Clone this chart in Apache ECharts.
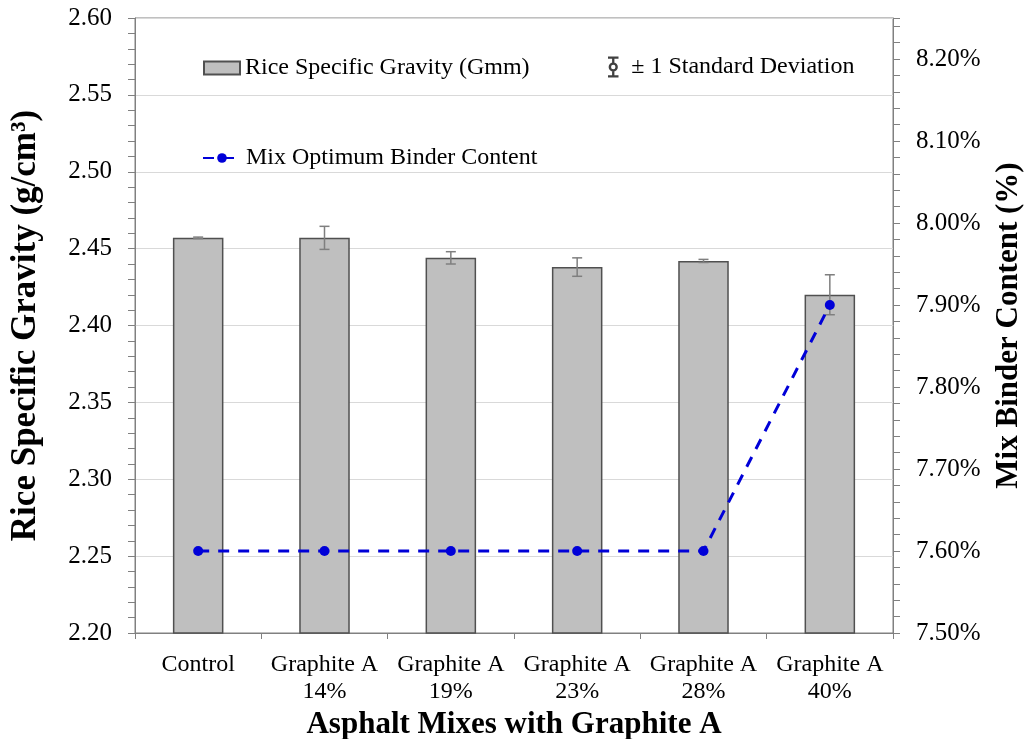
<!DOCTYPE html>
<html>
<head>
<meta charset="utf-8">
<script src="https://cdn.jsdelivr.net/npm/echarts@6/dist/echarts.min.js"></script>
<style>
html,body{margin:0;padding:0;background:#fff;}
#chart{width:1029px;height:739px;}
</style>
</head>
<body>
<div id="chart"></div>
<script>
var categories = ['Control', 'Graphite A\n14%', 'Graphite A\n19%', 'Graphite A\n23%', 'Graphite A\n28%', 'Graphite A\n40%'];
var riceGravity = [2.457, 2.457, 2.444, 2.438, 2.442, 2.420];
var riceStdDev = [0.0005, 0.0075, 0.004, 0.006, 0.001, 0.013];
var binderContent = [7.60, 7.60, 7.60, 7.60, 7.60, 7.90];
var leftTicks = {min: 2.20, max: 2.60, interval: 0.05};
var rightTicks = {min: 7.50, max: 8.25, interval: 0.10};

var FONT = "'Liberation Serif','Times New Roman',serif";
var errorData = riceGravity.map(function (v, i) { return [i, v - riceStdDev[i], v + riceStdDev[i]]; });

var chart = echarts.init(document.getElementById('chart'), null, {renderer: 'canvas'});
chart.setOption({
  animation: false,
  backgroundColor: '#ffffff',
  textStyle: {fontFamily: FONT, color: '#000'},
  grid: {left: 135, right: 136, top: 18, bottom: 106, show: true, borderColor: '#808080', borderWidth: 1,
         containLabel: false, outerBoundsMode: 'none'},
  legend: [
    {data: [{name: 'Rice Specific Gravity (Gmm)', icon: 'rect'}], left: 198, top: 51, itemWidth: 36, itemHeight: 13,
     textStyle: {fontFamily: FONT, fontSize: 24, color: '#000'}},
    {data: [{name: '± 1 Standard Deviation',
             icon: 'path://M1,0h10v2.2h-10z M4.9,0h2.2v6h-2.2z M4.9,14h2.2v6h-2.2z M1,17.8h10v2.2h-10z M6,5.6a4.4,4.4 0 1 1 -0.01,0z M6,7.9a2.1,2.1 0 1 0 0.01,0z'}],
     left: 603, top: 50, itemWidth: 12, itemHeight: 21,
     textStyle: {fontFamily: FONT, fontSize: 24, color: '#000', padding: [0, 0, 0, 7]}},
    {data: ['Mix Optimum Binder Content'], left: 197, top: 141, itemWidth: 38, itemHeight: 12,
     textStyle: {fontFamily: FONT, fontSize: 24, color: '#000'}}
  ],
  xAxis: {
    type: 'category',
    data: categories,
    boundaryGap: true,
    axisLine: {lineStyle: {color: '#808080', width: 1}},
    axisTick: {show: true, length: 6, alignWithLabel: false, lineStyle: {color: '#808080'}},
    axisLabel: {fontFamily: FONT, fontSize: 24, color: '#000', margin: 18, lineHeight: 27, interval: 0},
    name: 'Asphalt Mixes with Graphite A',
    nameLocation: 'middle',
    nameGap: 70,
    nameTextStyle: {fontFamily: FONT, fontSize: 31, fontWeight: 'bold', color: '#000'}
  },
  yAxis: [
    {
      type: 'value',
      min: leftTicks.min, max: leftTicks.max, interval: leftTicks.interval,
      axisLine: {show: true, lineStyle: {color: '#808080'}},
      axisTick: {show: true, length: 7, lineStyle: {color: '#808080'}},
      minorTick: {show: true, splitNumber: 5, length: 7, lineStyle: {color: '#808080'}},
      splitLine: {show: true, lineStyle: {color: '#d9d9d9', width: 1}},
      axisLabel: {fontFamily: FONT, fontSize: 25, color: '#000', margin: 23,
        formatter: function (v) { return v.toFixed(2); }},
      name: 'Rice Specific Gravity (g/cm³)',
      nameLocation: 'middle',
      nameRotate: 90,
      nameGap: 92,
      nameTextStyle: {fontFamily: FONT, fontSize: 35, fontWeight: 'bold', color: '#000'}
    },
    {
      type: 'value',
      position: 'right',
      min: rightTicks.min, max: rightTicks.max, interval: rightTicks.interval,
      axisLine: {show: true, lineStyle: {color: '#808080'}},
      axisTick: {show: true, length: 7, lineStyle: {color: '#808080'}},
      minorTick: {show: true, splitNumber: 5, length: 7, lineStyle: {color: '#808080'}},
      splitLine: {show: false},
      axisLabel: {fontFamily: FONT, fontSize: 25, color: '#000', margin: 23,
        formatter: function (v) {
          var r = Math.round(v * 10) / 10;
          return Math.abs(v - r) < 1e-6 ? r.toFixed(2) + '%' : '';
        }},
      name: 'Mix Binder Content (%)',
      nameLocation: 'middle',
      nameRotate: 90,
      nameGap: 100,
      nameTextStyle: {fontFamily: FONT, fontSize: 31, fontWeight: 'bold', color: '#000'}
    }
  ],
  series: [
    {
      name: 'Rice Specific Gravity (Gmm)',
      type: 'bar',
      yAxisIndex: 0,
      data: riceGravity,
      barWidth: '40%',
      itemStyle: {color: '#bfbfbf', borderColor: '#505050', borderWidth: 1.5},
      z: 2
    },
    {
      name: '± 1 Standard Deviation',
      type: 'custom',
      yAxisIndex: 0,
      data: errorData,
      itemStyle: {color: '#404040'},
      z: 3,
      renderItem: function (params, api) {
        var x = api.value(0);
        var lo = api.coord([x, api.value(1)]);
        var hi = api.coord([x, api.value(2)]);
        var cap = 5;
        var st = {stroke: '#7f7f7f', lineWidth: 1.5, fill: null};
        return {
          type: 'group',
          children: [
            {type: 'line', shape: {x1: lo[0], y1: lo[1], x2: hi[0], y2: hi[1]}, style: st},
            {type: 'line', shape: {x1: hi[0] - cap, y1: hi[1], x2: hi[0] + cap, y2: hi[1]}, style: st},
            {type: 'line', shape: {x1: lo[0] - cap, y1: lo[1], x2: lo[0] + cap, y2: lo[1]}, style: st}
          ]
        };
      }
    },
    {
      name: 'Mix Optimum Binder Content',
      type: 'line',
      yAxisIndex: 1,
      data: binderContent,
      symbol: 'circle',
      symbolSize: 10,
      itemStyle: {color: '#0000d8'},
      lineStyle: {color: '#0000d8', width: 3, type: [11, 9]},
      z: 4
    }
  ]
});
</script>
</body>
</html>
